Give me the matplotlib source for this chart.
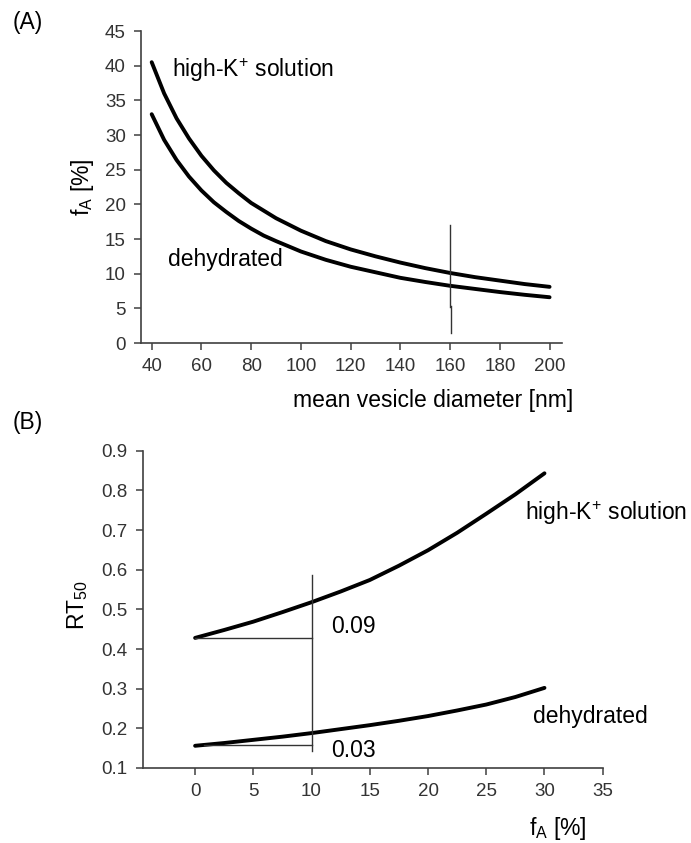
import numpy as np
import matplotlib
matplotlib.use("Agg")
import matplotlib.pyplot as plt

plt.rcParams['font.family'] = ['Liberation Sans', 'DejaVu Sans']
plt.rcParams['mathtext.fontset'] = 'custom'
plt.rcParams['mathtext.rm'] = 'Liberation Sans'
plt.rcParams['mathtext.it'] = 'Liberation Sans'

## Donnees
# (A) fraction fA en fonction du diametre moyen des vesicules
diam = [40, 45, 50, 55, 60, 65, 70, 75, 80, 85, 90, 100, 110, 120, 130, 140, 150, 160, 170, 180, 190, 200]
fa_highk = [40.5, 36.0, 32.4, 29.5, 27.0, 24.9, 23.1, 21.6, 20.2, 19.1, 18.0, 16.2, 14.7, 13.5, 12.5,
            11.6, 10.8, 10.1, 9.5, 9.0, 8.5, 8.1]
fa_dehyd = [33.0, 29.3, 26.4, 24.0, 22.0, 20.3, 18.9, 17.6, 16.5, 15.5, 14.7, 13.2, 12.0, 11.0, 10.2,
            9.4, 8.8, 8.25, 7.8, 7.35, 6.95, 6.6]
xticksA = [40, 60, 80, 100, 120, 140, 160, 180, 200]
yticksA = [0, 5, 10, 15, 20, 25, 30, 35, 40, 45]

# (B) RT50 en fonction de fA
fa = [0, 2.5, 5, 7.5, 10, 12.5, 15, 17.5, 20, 22.5, 25, 27.5, 30]
rt_highk = [0.428, 0.448, 0.469, 0.493, 0.518, 0.545, 0.574, 0.610, 0.649, 0.693, 0.741, 0.790, 0.843]
rt_dehyd = [0.156, 0.163, 0.171, 0.179, 0.188, 0.198, 0.208, 0.219, 0.231, 0.245, 0.260, 0.279, 0.302]
xticksB = [0, 5, 10, 15, 20, 25, 30, 35]
yticksB = [0.1, 0.2, 0.3, 0.4, 0.5, 0.6, 0.7, 0.8, 0.9]

W, H = 691, 843
fig = plt.figure(figsize=(W / 100, H / 100), dpi=100)

def px(x, y):
    return x / W, 1 - y / H

def style(ax):
    for s in ['top', 'right']:
        ax.spines[s].set_visible(False)
    for s in ['left', 'bottom']:
        ax.spines[s].set_color('#404040')
        ax.spines[s].set_linewidth(1.2)
    ax.tick_params(direction='out', length=5, width=1.1, color='#404040',
                   labelcolor='#333333', labelsize=13.5, pad=6)

TXT = 16.5
LW = 2.8

## (A)
axA = fig.add_axes([141 / W, 1 - 343 / H, (562 - 141) / W, (343 - 31) / H])
axA.plot(diam, fa_highk, '-k', lw=LW, solid_capstyle='round')
axA.plot(diam, fa_dehyd, '-k', lw=LW, solid_capstyle='round')
axA.plot([159.8, 159.8], [5.2, 17.0], color='#333333', lw=1.0)
axA.plot([160.2, 160.2], [1.4, 5.4], color='#333333', lw=1.0)
axA.set_xlim(35.7, 205)
axA.set_ylim(0, 45)
axA.set_xticks(xticksA)
axA.set_yticks(yticksA)
style(axA)
axA.text(48.2, 39.4, 'high-K$^{+}$ solution', fontsize=TXT, ha='left', va='center')
axA.text(46.6, 12.0, 'dehydrated', fontsize=TXT, ha='left', va='center')

## (B)
axB = fig.add_axes([142.7 / W, 1 - 768 / H, (602.7 - 142.7) / W, (768 - 450.7) / H])
axB.plot(fa, rt_highk, '-k', lw=LW, solid_capstyle='round')
axB.plot(fa, rt_dehyd, '-k', lw=LW, solid_capstyle='round')
axB.plot([0, 10], [rt_highk[0], rt_highk[0]], color='#333333', lw=1.0)
axB.plot([0.8, 10], [rt_dehyd[0] + 0.001, rt_dehyd[0] + 0.001], color='#333333', lw=1.0)
axB.plot([10, 10], [0.143, 0.586], color='#333333', lw=1.0)
axB.set_xlim(-4.5, 35)
axB.set_ylim(0.1, 0.9)
axB.set_xticks(xticksB)
axB.set_yticks(yticksB)
axB.set_yticklabels([f'{v:.1f}' for v in yticksB])
style(axB)
axB.text(11.7, 0.457, '0.09', fontsize=TXT, ha='left', va='center')
axB.text(11.7, 0.143, '0.03', fontsize=TXT, ha='left', va='center')
axB.text(28.3, 0.742, 'high-K$^{+}$ solution', fontsize=TXT, ha='left', va='center')
axB.text(29.0, 0.230, 'dehydrated', fontsize=TXT, ha='left', va='center')

## Titres et labels
fig.text(*px(28, 22), '(A)', fontsize=TXT, ha='center', va='center')
fig.text(*px(28, 422), '(B)', fontsize=TXT, ha='center', va='center')
fig.text(*px(83, 187), 'f$_{\\rm A}$ [%]', fontsize=TXT, rotation=90, ha='center', va='center')
fig.text(*px(293, 400), 'mean vesicle diameter [nm]', fontsize=TXT, ha='left', va='center')
fig.text(*px(78, 605), 'RT$_{50}$', fontsize=TXT, rotation=90, ha='center', va='center')
fig.text(*px(558, 828), 'f$_{\\rm A}$ [%]', fontsize=TXT, ha='center', va='center')

plt.savefig('out.png', dpi=100)
